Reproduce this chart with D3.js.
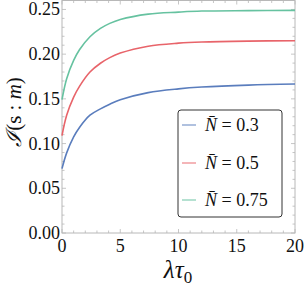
<!DOCTYPE html>
<html>
<head>
<meta charset="utf-8">
<script src="https://cdn.jsdelivr.net/npm/d3@7"></script>
<style>
body{margin:0;background:#fff;}
</style>
</head>
<body>
<svg width="306" height="288"></svg>
<script>
// values
var lambdaTau=[0,0.4,1,1.5,2.4,3.3,4.1,5,7.4,10,12,16,20];
var n03=[0.072,0.0896,0.1075,0.118,0.1317,0.1388,0.144,0.149,0.157,0.1612,0.1632,0.1654,0.1666];
var n05=[0.109,0.1317,0.152,0.164,0.180,0.1898,0.1961,0.2012,0.2089,0.2123,0.2136,0.2146,0.215];
var n075=[0.1492,0.1726,0.193,0.2049,0.2195,0.2288,0.2344,0.2388,0.2448,0.247,0.2482,0.2487,0.249];
var labels=["0.3","0.5","0.75"];
var xTicks=[0,5,10,15,20];
var yTicks=[0,0.05,0.10,0.15,0.20,0.25];

var colors=["#5a7dbd","#e8646a","#66c2a0"];
var series=[n03,n05,n075];
var serif="'Liberation Serif', 'Times New Roman', serif";

var svg=d3.select("svg");
var x=d3.scaleLinear().domain([0,20]).range([62,295]);
var y=d3.scaleLinear().domain([0,0.26]).range([233,0.5]);

var frameColor="#b8b8b8";

// frame
svg.append("rect")
.attr("x",x(0)).attr("y",y(0.26))
.attr("width",x(20)-x(0)).attr("height",y(0)-y(0.26))
.attr("fill","none").attr("stroke",frameColor).attr("stroke-width",1);

// ticks, pointing inward on all sides
var xMinor=d3.range(0,20.01,1);
var yMinor=d3.range(0,0.2601,0.01);
var tickG=svg.append("g").attr("stroke",frameColor).attr("stroke-width",0.8);
xMinor.forEach(function(v){
  var big=(v%5==0);
  var len=big?4:2.5;
  tickG.append("line").attr("x1",x(v)).attr("x2",x(v)).attr("y1",y(0)).attr("y2",y(0)-len);
  tickG.append("line").attr("x1",x(v)).attr("x2",x(v)).attr("y1",y(0.26)).attr("y2",y(0.26)+len);
});
yMinor.forEach(function(v,i){
  var big=(i%5==0);
  var len=big?4:2.5;
  tickG.append("line").attr("y1",y(v)).attr("y2",y(v)).attr("x1",x(0)).attr("x2",x(0)+len);
  tickG.append("line").attr("y1",y(v)).attr("y2",y(v)).attr("x1",x(20)).attr("x2",x(20)-len);
});

// tick labels
svg.selectAll(".xt").data(xTicks).enter().append("text")
.attr("class","xt")
.attr("x",function(d){return x(d);})
.attr("y",252)
.attr("text-anchor","middle")
.attr("font-family",serif)
.attr("font-size",18)
.attr("fill","#111")
.text(function(d){return d;});

svg.selectAll(".yt").data(yTicks).enter().append("text")
.attr("class","yt")
.attr("x",x(0)-2)
.attr("y",function(d){return y(d)+6;})
.attr("text-anchor","end")
.attr("font-family",serif)
.attr("font-size",18)
.attr("fill","#111")
.text(function(d){return d3.format(".2f")(d);});

// curves
var line=d3.line()
.x(function(d,i){return x(lambdaTau[i]);})
.y(function(d){return y(d);})
.curve(d3.curveCatmullRom.alpha(0.5));

svg.selectAll(".curve").data(series).enter().append("path")
.attr("class","curve")
.attr("d",line)
.attr("fill","none")
.attr("stroke",function(d,i){return colors[i];})
.attr("stroke-width",1.6);

// axis titles
svg.append("text")
.attr("x",178).attr("y",278)
.attr("text-anchor","middle")
.attr("font-family",serif)
.attr("font-size",25)
.attr("font-style","italic")
.attr("fill","#111")
.html('λτ<tspan font-size="17" dy="5" font-style="normal">0</tspan>');

svg.append("text")
.attr("transform","translate(21,112) rotate(-90)")
.attr("text-anchor","middle")
.attr("font-family",serif)
.attr("font-size",21)
.attr("fill","#111")
.html('<tspan font-style="italic">ℐ</tspan>(s : <tspan font-style="italic">m</tspan>)');

// legend
var lg=svg.append("g");
lg.append("rect")
.attr("x",178).attr("y",110)
.attr("width",104).attr("height",107)
.attr("rx",3)
.attr("fill","#fff")
.attr("stroke","#333")
.attr("stroke-width",1);

var rows=[125,163,200];
labels.forEach(function(l,i){
  lg.append("line")
  .attr("x1",182).attr("x2",196)
  .attr("y1",rows[i]).attr("y2",rows[i])
  .attr("stroke",colors[i]).attr("stroke-opacity",0.6).attr("stroke-width",1.6);
  lg.append("text")
  .attr("x",205).attr("y",rows[i]+6)
  .attr("font-family",serif)
  .attr("font-size",18)
  .attr("fill","#111")
  .html('<tspan font-style="italic">N\u0304</tspan> = '+l);
});
</script>
</body>
</html>
